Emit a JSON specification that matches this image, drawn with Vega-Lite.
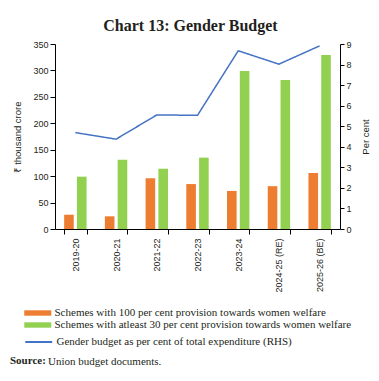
{
  "$schema": "https://vega.github.io/schema/vega-lite/v6.json",
  "autosize": {"type": "none"},
  "width": 285,
  "height": 185,
  "padding": {"left": 55, "top": 44, "right": 39, "bottom": 152},
  "background": "white",
  "title": {
    "text": "Chart 13: Gender Budget",
    "font": "Liberation Serif",
    "fontSize": 16,
    "fontWeight": "bold",
    "color": "#231f20",
    "anchor": "middle",
    "dx": -7,
    "offset": 6
  },
  "config": {
    "view": {"stroke": null},
    "axis": {
      "labelFont": "Liberation Sans",
      "labelFontSize": 9,
      "labelColor": "#231f20",
      "titleFont": "Liberation Sans",
      "titleFontSize": 9.5,
      "titleFontWeight": "normal",
      "titleColor": "#231f20",
      "domainColor": "#000000",
      "tickColor": "#000000",
      "grid": false
    },
    "legend": {
      "labelFont": "Liberation Serif",
      "labelFontSize": 11,
      "labelColor": "#231f20",
      "labelLimit": 400,
      "padding": 0
    }
  },
  "datasets": {
    "bars": [
      {"year": "2019-20", "series": "Schemes with 100 per cent provision towards women welfare", "value": 27},
      {"year": "2019-20", "series": "Schemes with atleast 30 per cent provision towards women welfare", "value": 99},
      {"year": "2020-21", "series": "Schemes with 100 per cent provision towards women welfare", "value": 24},
      {"year": "2020-21", "series": "Schemes with atleast 30 per cent provision towards women welfare", "value": 131},
      {"year": "2021-22", "series": "Schemes with 100 per cent provision towards women welfare", "value": 96},
      {"year": "2021-22", "series": "Schemes with atleast 30 per cent provision towards women welfare", "value": 114},
      {"year": "2022-23", "series": "Schemes with 100 per cent provision towards women welfare", "value": 85},
      {"year": "2022-23", "series": "Schemes with atleast 30 per cent provision towards women welfare", "value": 135},
      {"year": "2023-24", "series": "Schemes with 100 per cent provision towards women welfare", "value": 72},
      {"year": "2023-24", "series": "Schemes with atleast 30 per cent provision towards women welfare", "value": 299},
      {"year": "2024-25 (RE)", "series": "Schemes with 100 per cent provision towards women welfare", "value": 81},
      {"year": "2024-25 (RE)", "series": "Schemes with atleast 30 per cent provision towards women welfare", "value": 282},
      {"year": "2025-26 (BE)", "series": "Schemes with 100 per cent provision towards women welfare", "value": 106},
      {"year": "2025-26 (BE)", "series": "Schemes with atleast 30 per cent provision towards women welfare", "value": 329}
    ],
    "line": [
      {"year": "2019-20", "series": "Gender budget as per cent of total expenditure (RHS)", "src": "Union budget documents.", "pct": 4.69},
      {"year": "2020-21", "series": "Gender budget as per cent of total expenditure (RHS)", "src": "Union budget documents.", "pct": 4.37},
      {"year": "2021-22", "series": "Gender budget as per cent of total expenditure (RHS)", "src": "Union budget documents.", "pct": 5.55},
      {"year": "2022-23", "series": "Gender budget as per cent of total expenditure (RHS)", "src": "Union budget documents.", "pct": 5.53},
      {"year": "2023-24", "series": "Gender budget as per cent of total expenditure (RHS)", "src": "Union budget documents.", "pct": 8.67},
      {"year": "2024-25 (RE)", "series": "Gender budget as per cent of total expenditure (RHS)", "src": "Union budget documents.", "pct": 8.02},
      {"year": "2025-26 (BE)", "series": "Gender budget as per cent of total expenditure (RHS)", "src": "Union budget documents.", "pct": 8.91}
    ]
  },
  "encoding": {
    "x": {
      "field": "year",
      "type": "nominal",
      "sort": null,
      "scale": {"paddingInner": 0.45, "paddingOuter": 0.225},
      "axis": {
        "title": null,
        "labelAngle": -90,
        "tickBand": "extent",
        "tickSize": 5,
        "labelPadding": 4
      }
    }
  },
  "layer": [
    {
      "data": {"name": "bars"},
      "mark": {"type": "bar"},
      "encoding": {
        "xOffset": {
          "field": "series",
          "type": "nominal",
          "sort": ["Schemes with 100 per cent provision towards women welfare", "Schemes with atleast 30 per cent provision towards women welfare"],
          "scale": {"paddingInner": 0.25}
        },
        "y": {
          "field": "value",
          "type": "quantitative",
          "scale": {"domain": [0, 350], "nice": false},
          "axis": {
            "orient": "left",
            "title": "₹ thousand crore",
            "values": [0, 50, 100, 150, 200, 250, 300, 350],
            "tickSize": 5,
            "labelPadding": 2,
            "titlePadding": 10
          }
        },
        "color": {
          "field": "series",
          "type": "nominal",
          "scale": {
            "domain": ["Schemes with 100 per cent provision towards women welfare", "Schemes with atleast 30 per cent provision towards women welfare"],
            "range": ["#ED7D31", "#92D050"]
          },
          "legend": {
            "title": null,
            "orient": "none",
            "legendX": -24.25,
            "legendY": 262,
            "direction": "vertical",
            "symbolType": "M-2,-0.4H2V0.4H-2Z",
            "symbolSize": 182,
            "symbolStrokeWidth": 0,
            "labelOffset": 9.75,
            "rowPadding": 0
          }
        }
      }
    },
    {
      "data": {"name": "line"},
      "mark": {"type": "line", "strokeWidth": 1.5},
      "encoding": {
        "y": {
          "field": "pct",
          "type": "quantitative",
          "scale": {"domain": [0, 9], "nice": false},
          "axis": {
            "orient": "right",
            "title": "Per cent",
            "titleAngle": 270,
            "values": [0, 1, 2, 3, 4, 5, 6, 7, 8, 9],
            "tickSize": 4,
            "labelPadding": 2,
            "titlePadding": 19
          }
        },
        "stroke": {
          "field": "series",
          "type": "nominal",
          "scale": {"range": ["#4472C4"]},
          "legend": {
            "title": null,
            "orient": "none",
            "legendX": -24.25,
            "legendY": 290,
            "symbolType": "M-2,0H2",
            "symbolSize": 182,
            "symbolStrokeWidth": 2,
            "labelOffset": 9.75
          }
        },
        "strokeDash": {
          "field": "src",
          "type": "nominal",
          "scale": {"range": [[1, 0]]},
          "legend": {
            "title": "Source:",
            "titleOrient": "left",
            "titleFont": "Liberation Serif",
            "titleFontSize": 11,
            "titleFontWeight": "bold",
            "titleColor": "#231f20",
            "titlePadding": 0,
            "orient": "none",
            "legendX": -45,
            "legendY": 312,
            "symbolSize": 0,
            "symbolOpacity": 0,
            "symbolStrokeWidth": 0,
            "labelOffset": -9
          }
        }
      }
    }
  ],
  "resolve": {"scale": {"y": "independent"}}
}
